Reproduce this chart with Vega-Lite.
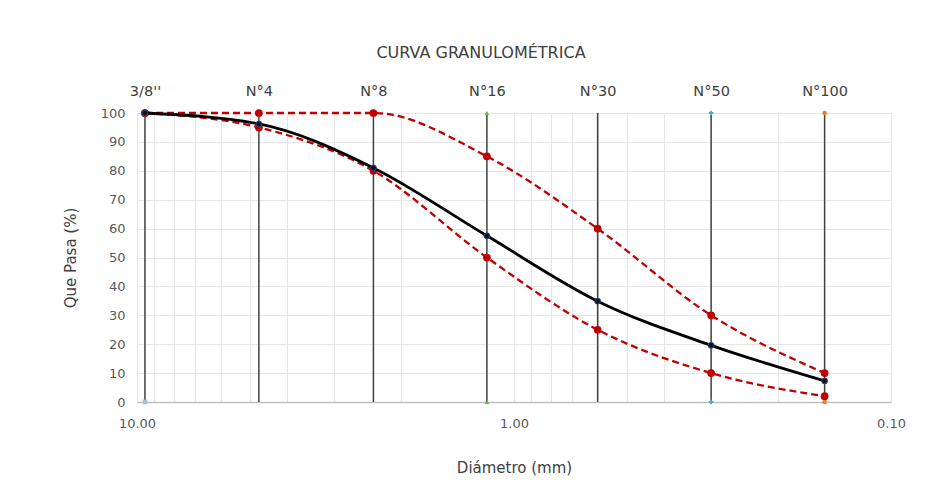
{
  "$schema": "https://vega.github.io/schema/vega-lite/v6.json",
  "width": 754,
  "height": 289,
  "autosize": {"type": "none"},
  "padding": {"left": 137, "top": 113, "right": 53, "bottom": 88},
  "background": "white",
  "config": {
    "view": {"stroke": null},
    "font": "DejaVu Sans",
    "axis": {"labelFont": "DejaVu Sans", "titleFont": "DejaVu Sans", "labelColor": "#595959", "titleColor": "#404040", "titleFontWeight": "normal", "gridColor": "#e6e6e6", "gridWidth": 1},
    "axisY": {"tickCount": 11, "labelOverlap": false, "values": [0, 10, 20, 30, 40, 50, 60, 70, 80, 90, 100]},
    "axisLeft": {"tickCount": 11, "labelOverlap": false}
  },
  "title": {"text": "CURVA GRANULOMÉTRICA", "font": "DejaVu Sans", "fontSize": 16, "fontWeight": "normal", "color": "#404040", "anchor": "middle", "dx": -33, "offset": 22},
  "resolve": {"axis": {"x": "independent"}},
  "datasets": {
    "sieves": [
      {"sieve": "3/8''", "d": 9.525},
      {"sieve": "N°4", "d": 4.75},
      {"sieve": "N°8", "d": 2.36},
      {"sieve": "N°16", "d": 1.18},
      {"sieve": "N°30", "d": 0.6},
      {"sieve": "N°50", "d": 0.3},
      {"sieve": "N°100", "d": 0.15}
    ],
    "curves": [
      {"serie": "Muestra", "d": 9.525, "p": 100},
      {"serie": "Muestra", "d": 4.75, "p": 96.2},
      {"serie": "Muestra", "d": 2.36, "p": 81},
      {"serie": "Muestra", "d": 1.18, "p": 57.5},
      {"serie": "Muestra", "d": 0.6, "p": 34.9},
      {"serie": "Muestra", "d": 0.3, "p": 19.6},
      {"serie": "Muestra", "d": 0.15, "p": 7.3},
      {"serie": "Superior", "d": 9.525, "p": 100},
      {"serie": "Superior", "d": 4.75, "p": 100},
      {"serie": "Superior", "d": 2.36, "p": 100},
      {"serie": "Superior", "d": 1.18, "p": 85},
      {"serie": "Superior", "d": 0.6, "p": 60},
      {"serie": "Superior", "d": 0.3, "p": 30},
      {"serie": "Superior", "d": 0.15, "p": 10},
      {"serie": "Inferior", "d": 9.525, "p": 100},
      {"serie": "Inferior", "d": 4.75, "p": 95},
      {"serie": "Inferior", "d": 2.36, "p": 80},
      {"serie": "Inferior", "d": 1.18, "p": 50},
      {"serie": "Inferior", "d": 0.6, "p": 25},
      {"serie": "Inferior", "d": 0.3, "p": 10},
      {"serie": "Inferior", "d": 0.15, "p": 2}
    ],
    "markers": [
      {"m": "a", "d": 9.525, "p": 100},
      {"m": "a", "d": 9.525, "p": 0},
      {"m": "b", "d": 1.18, "p": 100},
      {"m": "b", "d": 1.18, "p": 0},
      {"m": "c", "d": 0.3, "p": 100},
      {"m": "c", "d": 0.3, "p": 0},
      {"m": "d", "d": 0.15, "p": 100},
      {"m": "d", "d": 0.15, "p": 0},
      {"m": "e", "d": 0.99, "p": 1.2}
    ]
  },
  "layer": [
    {
      "data": {"name": "curves"},
      "transform": [{"filter": "datum.serie != 'Muestra'"}],
      "mark": {"type": "line", "color": "#c00000", "strokeWidth": 2.3, "strokeDash": [7, 4], "interpolate": "monotone"},
      "encoding": {
        "x": {
          "field": "d", "type": "quantitative",
          "scale": {"type": "log", "domain": [0.1, 10], "reverse": true, "nice": false, "zero": false},
          "axis": {
            "title": "Diámetro (mm)", "titleFontSize": 15, "titlePadding": 30,
            "values": [10, 9, 8, 7, 6, 5, 4, 3, 2, 1, 0.9, 0.8, 0.7, 0.6, 0.5, 0.4, 0.3, 0.2, 0.1],
            "labelExpr": "datum.value == 10 ? '10.00' : (datum.value == 1 ? '1.00' : (abs(datum.value - 0.1) < 0.001 ? '0.10' : ''))",
            "labelFontSize": 13, "labelPadding": 15, "ticks": false,
            "domain": true, "domainColor": "#bfbfbf", "domainWidth": 1.5,
            "labelOverlap": false, "labelFlush": false, "grid": true
          }
        },
        "y": {
          "field": "p", "type": "quantitative",
          "scale": {"domain": [0, 100], "nice": false},
          "axis": {
            "title": "Que Pasa (%)", "titleFontSize": 15, "titlePadding": 22,
            "values": [0, 10, 20, 30, 40, 50, 60, 70, 80, 90, 100],
            "tickCount": 11,
            "labelOverlap": false, "grid": true,
            "labelFontSize": 13, "labelPadding": 12, "ticks": false, "domain": false
          }
        },
        "detail": {"field": "serie"}
      }
    },
    {
      "data": {"name": "sieves"},
      "mark": {"type": "rule", "color": "#404040", "strokeWidth": 1.5},
      "encoding": {
        "x": {
          "field": "d", "type": "quantitative",
          "axis": {
            "orient": "top", "title": null, "grid": false, "domain": false, "ticks": false,
            "values": [9.525, 4.75, 2.36, 1.18, 0.6, 0.3, 0.15],
            "labelExpr": "datum.value > 9 ? \"3/8''\" : (datum.value > 4 ? 'N°4' : (datum.value > 2 ? 'N°8' : (datum.value > 1 ? 'N°16' : (datum.value > 0.5 ? 'N°30' : (datum.value > 0.25 ? 'N°50' : 'N°100')))))",
            "labelFontSize": 14.5, "labelColor": "#404040", "labelPadding": 15,
            "labelOverlap": false, "labelFlush": false
          }
        }
      }
    },
    {
      "data": {"name": "markers"},
      "mark": {"type": "point", "filled": true, "size": 22, "opacity": 1},
      "encoding": {
        "x": {"field": "d", "type": "quantitative", "axis": null},
        "y": {"field": "p", "type": "quantitative"},
        "color": {"field": "m", "type": "nominal", "scale": {"domain": ["a", "b", "c", "d", "e"], "range": ["#9dc3e6", "#70ad47", "#4bacc6", "#ed7d31", "#f4a6a6"]}, "legend": null},
        "shape": {"field": "m", "type": "nominal", "scale": {"domain": ["a", "b", "c", "d", "e"], "range": ["square", "triangle-up", "cross", "circle", "stroke"]}, "legend": null}
      }
    },
    {
      "data": {"name": "curves"},
      "transform": [{"filter": "datum.serie != 'Muestra'"}],
      "mark": {"type": "circle", "color": "#c00000", "size": 60, "opacity": 1},
      "encoding": {
        "x": {"field": "d", "type": "quantitative", "axis": null},
        "y": {"field": "p", "type": "quantitative"}
      }
    },
    {
      "data": {"name": "curves"},
      "transform": [{"filter": "datum.serie == 'Muestra'"}],
      "mark": {"type": "line", "color": "#000000", "strokeWidth": 2.8, "interpolate": "monotone"},
      "encoding": {
        "x": {"field": "d", "type": "quantitative", "axis": null},
        "y": {"field": "p", "type": "quantitative"}
      }
    },
    {
      "data": {"name": "curves"},
      "transform": [{"filter": "datum.serie == 'Muestra'"}],
      "mark": {"type": "point", "filled": true, "shape": "circle", "fill": "#111122", "stroke": "#2f4b7c", "strokeWidth": 1, "size": 35, "opacity": 1},
      "encoding": {
        "x": {"field": "d", "type": "quantitative", "axis": null},
        "y": {"field": "p", "type": "quantitative"}
      }
    }
  ]
}
